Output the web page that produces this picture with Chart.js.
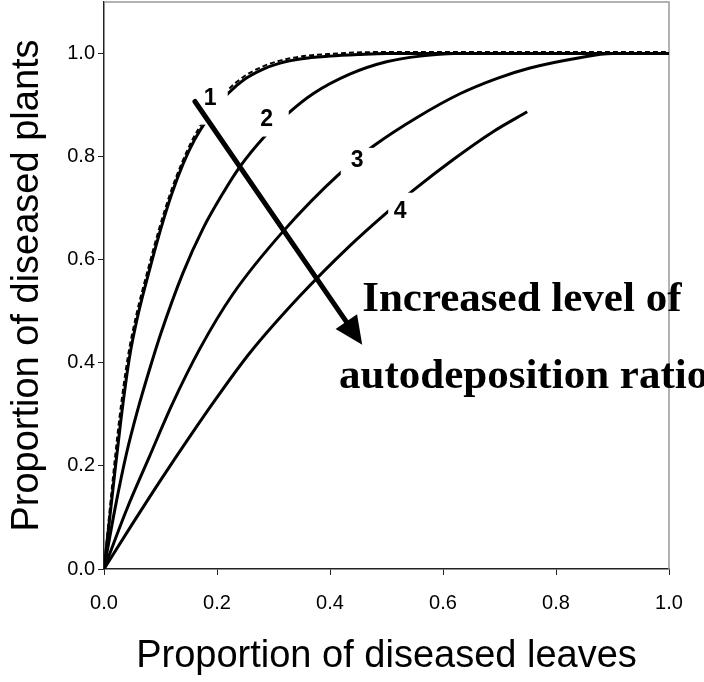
<!DOCTYPE html>
<html>
<head>
<meta charset="utf-8">
<script src="https://cdn.jsdelivr.net/npm/chart.js@4.4.1/dist/chart.umd.min.js"></script>
<style>
  html, body { margin: 0; padding: 0; background: #fff; }
  #wrap { width: 704px; height: 682px; }
</style>
</head>
<body>
<div id="wrap"><canvas id="chart" width="704" height="682"></canvas></div>
<script>
// -- Data --
// curve 1 (lowest autodeposition ratio)
const c1X = [0, 0.015, 0.030, 0.045, 0.060, 0.080, 0.100, 0.120, 0.140, 0.160, 0.180, 0.200, 0.220, 0.250, 0.280, 0.310, 0.350, 0.400, 0.450, 0.500, 1.0];
const c1Y = [0, 0.147, 0.290, 0.410, 0.492, 0.578, 0.658, 0.728, 0.786, 0.832, 0.868, 0.898, 0.923, 0.951, 0.969, 0.981, 0.990, 0.995, 0.998, 1.0, 1.0];
// dashed curve sitting just above curve 1
const dX = [0, 0.013, 0.027, 0.042, 0.057, 0.077, 0.097, 0.117, 0.137, 0.157, 0.177, 0.197, 0.217, 0.247, 0.277, 0.307, 0.347, 0.397, 0.447, 0.500, 1.0];
const dY = [0, 0.147, 0.290, 0.410, 0.492, 0.578, 0.658, 0.728, 0.786, 0.834, 0.871, 0.901, 0.927, 0.955, 0.973, 0.985, 0.994, 0.999, 1.002, 1.003, 1.003];
// curve 2
const c2X = [0, 0.020, 0.040, 0.060, 0.080, 0.100, 0.140, 0.175, 0.210, 0.241, 0.285, 0.324, 0.370, 0.435, 0.500, 0.560, 0.620, 0.800, 1.0];
const c2Y = [0, 0.120, 0.225, 0.310, 0.385, 0.455, 0.575, 0.660, 0.728, 0.781, 0.840, 0.882, 0.922, 0.960, 0.984, 0.995, 1.0, 1.0, 1.0];
// curve 3
const c3X = [0, 0.040, 0.080, 0.120, 0.170, 0.228, 0.317, 0.418, 0.480, 0.554, 0.630, 0.696, 0.754, 0.837, 0.900, 1.0];
const c3Y = [0, 0.115, 0.217, 0.318, 0.428, 0.533, 0.655, 0.768, 0.823, 0.876, 0.922, 0.952, 0.972, 0.991, 1.0, 1.0];
// curve 4 (highest autodeposition ratio)
const c4X = [0, 0.050, 0.100, 0.150, 0.200, 0.258, 0.347, 0.435, 0.501, 0.550, 0.620, 0.688, 0.749];
const c4Y = [0, 0.087, 0.172, 0.254, 0.333, 0.419, 0.530, 0.627, 0.692, 0.737, 0.796, 0.848, 0.887];

// axis ticks
const xTicks = [0, 0.2, 0.4, 0.6, 0.8, 1.0];
const yTicks = [0, 0.2, 0.4, 0.6, 0.8, 1.0];

// curve labels: text position and the white box behind it (data units)
const labelText = ['1', '2', '3', '4'];
const labelX = [0.188, 0.288, 0.448, 0.524];
const labelY = [0.913, 0.872, 0.792, 0.693];
const boxX0 = [0.168, 0.273, 0.419, 0.503];
const boxX1 = [0.219, 0.327, 0.478, 0.549];
const boxY0 = [0.862, 0.839, 0.765, 0.670];
const boxY1 = [0.938, 0.895, 0.817, 0.730];

// arrow and its caption
const arrowFrom = [0.161, 0.907];
const arrowTo = [0.457, 0.435];
const captionLines = ['Increased level of', 'autodeposition ratio'];
const captionX = [0.457, 0.416];
const captionY = [0.500, 0.352];

function toPoints(xs, ys) {
    return xs.map((x, i) => ({ x: x, y: ys[i] }));
}

function curve(xs, ys, dashed) {
    return {
        data: toPoints(xs, ys),
        showLine: true,
        borderColor: '#000',
        borderWidth: dashed ? 2 : 3,
        borderDash: dashed ? [5, 3] : [],
        pointRadius: 0,
        cubicInterpolationMode: 'monotone',
        fill: false
    };
}

// -- Plugins --
const framePlugin = {
    id: 'frame',
    beforeDatasetsDraw(chart) {
        const { ctx, chartArea: a } = chart;
        ctx.save();
        ctx.strokeStyle = '#999';
        ctx.lineWidth = 1.5;
        ctx.beginPath();
        ctx.moveTo(a.left, a.top);
        ctx.lineTo(a.right, a.top);
        ctx.lineTo(a.right, a.bottom);
        ctx.stroke();
        ctx.restore();
    }
};

const annotatePlugin = {
    id: 'annotate',
    afterDatasetsDraw(chart) {
        const { ctx } = chart;
        const xs = chart.scales.x, ys = chart.scales.y;
        ctx.save();

        // label boxes hide the curves under them
        ctx.font = 'bold 23px "Liberation Sans", Arial, sans-serif';
        ctx.textAlign = 'center';
        ctx.textBaseline = 'middle';
        labelText.forEach((t, i) => {
            const x0 = xs.getPixelForValue(boxX0[i]), x1 = xs.getPixelForValue(boxX1[i]);
            const y0 = ys.getPixelForValue(boxY1[i]), y1 = ys.getPixelForValue(boxY0[i]);
            ctx.fillStyle = '#fff';
            ctx.fillRect(x0, y0, x1 - x0, y1 - y0);
            ctx.fillStyle = '#000';
            ctx.fillText(t, xs.getPixelForValue(labelX[i]), ys.getPixelForValue(labelY[i]));
        });

        // arrow
        const sx = xs.getPixelForValue(arrowFrom[0]), sy = ys.getPixelForValue(arrowFrom[1]);
        const tx = xs.getPixelForValue(arrowTo[0]), ty = ys.getPixelForValue(arrowTo[1]);
        const ang = Math.atan2(ty - sy, tx - sx);
        const headLen = 28, headHalf = 13;
        const bx = tx - headLen * Math.cos(ang), by = ty - headLen * Math.sin(ang);
        ctx.strokeStyle = '#000';
        ctx.lineWidth = 5;
        ctx.lineCap = 'round';
        ctx.beginPath();
        ctx.moveTo(sx, sy);
        ctx.lineTo(bx + 2 * Math.cos(ang), by + 2 * Math.sin(ang));
        ctx.stroke();
        ctx.fillStyle = '#000';
        ctx.beginPath();
        ctx.moveTo(tx, ty);
        ctx.lineTo(bx + headHalf * Math.sin(ang), by - headHalf * Math.cos(ang));
        ctx.lineTo(bx - headHalf * Math.sin(ang), by + headHalf * Math.cos(ang));
        ctx.closePath();
        ctx.fill();

        // caption
        ctx.font = 'bold 43px "Liberation Serif", "Times New Roman", serif';
        ctx.textAlign = 'left';
        ctx.textBaseline = 'alphabetic';
        captionLines.forEach((t, i) => {
            ctx.fillText(t, xs.getPixelForValue(captionX[i]), ys.getPixelForValue(captionY[i]));
        });
        ctx.restore();
    }
};

const tickFont = { family: '"Liberation Sans", Arial, sans-serif', size: 20 };
const titleFont = { family: '"Liberation Sans", Arial, sans-serif', size: 38 };

new Chart(document.getElementById('chart'), {
    type: 'scatter',
    data: {
        datasets: [
            curve(dX, dY, true),
            curve(c1X, c1Y, false),
            curve(c2X, c2Y, false),
            curve(c3X, c3Y, false),
            curve(c4X, c4Y, false)
        ]
    },
    options: {
        responsive: false,
        animation: false,
        layout: { padding: { top: 2, right: 35, left: 0, bottom: 0 } },
        plugins: { legend: { display: false }, tooltip: { enabled: false } },
        scales: {
            x: {
                type: 'linear',
                min: 0,
                max: 1,
                afterFit: (s) => { s.height = 113; },
                afterBuildTicks: (s) => { s.ticks = xTicks.map(v => ({ value: v })); },
                ticks: { color: '#000', font: tickFont, padding: 16, maxRotation: 0, callback: v => v.toFixed(1) },
                grid: { drawOnChartArea: false, drawTicks: true, tickLength: 6, color: '#222' },
                border: { color: '#222', width: 1.5 },
                title: { display: true, text: 'Proportion of diseased leaves', color: '#000', font: titleFont, padding: { top: 0, bottom: 3 } }
            },
            y: {
                type: 'linear',
                min: 0,
                max: 1.1,
                afterFit: (s) => { s.width = 104; s.paddingTop = 0; s.paddingBottom = 0; },
                afterBuildTicks: (s) => { s.ticks = yTicks.map(v => ({ value: v })); },
                ticks: { color: '#000', font: tickFont, padding: 3, callback: v => v.toFixed(1) },
                grid: { drawOnChartArea: false, drawTicks: true, tickLength: 6, color: '#222' },
                border: { color: '#222', width: 1.5 },
                title: { display: true, text: 'Proportion of diseased plants', color: '#000', font: titleFont, padding: { top: 5, bottom: 0 } }
            }
        }
    },
    plugins: [framePlugin, annotatePlugin]
});
</script>
</body>
</html>
